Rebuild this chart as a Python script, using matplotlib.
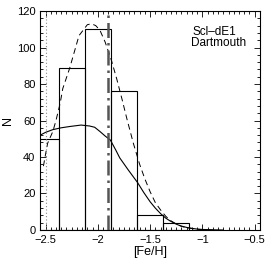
import numpy as np
import matplotlib.pyplot as plt
from matplotlib.ticker import MultipleLocator

plt.rcParams['font.family'] = ['Liberation Sans', 'DejaVu Sans']

# histogram of [Fe/H] (bin centres, counts)
bin_centres = [-2.5, -2.25, -2.0, -1.75, -1.5, -1.25]
counts = [50, 89, 110, 76, 8, 4]
bin_width = 0.25

# dashed model curve
dash_x = [-2.52, -2.495, -2.48, -2.43, -2.40, -2.36, -2.335, -2.27, -2.18, -2.10,
          -2.06, -2.02, -1.98, -1.93, -1.87, -1.82, -1.77, -1.72, -1.66, -1.60,
          -1.55, -1.50, -1.45, -1.40, -1.35, -1.30, -1.25, -1.20, -1.15, -1.10,
          -1.05, -1.00, -0.95, -0.90]
dash_y = [35, 43, 47.5, 54, 60, 69.5, 77.5, 88.5, 106.5, 112.5,
          113, 112, 109.5, 103, 93, 83, 72, 60.5, 47.5, 36,
          28, 21, 15, 11, 7.5, 5, 3.3, 2, 1.2, 0.8,
          0.4, 0.2, 0.1, 0.0]

# solid model curve
solid_x = [-2.55, -2.50, -2.43, -2.35, -2.27, -2.16, -2.08, -2.03, -1.98, -1.93,
           -1.88, -1.865, -1.83, -1.79, -1.71, -1.62, -1.56, -1.50, -1.45, -1.40,
           -1.35, -1.31, -1.25, -1.21, -1.15, -1.10, -1.05, -1.00, -0.90, -0.80]
solid_y = [52, 53.5, 55, 56, 56.7, 57.5, 57, 56.3, 54, 51.5,
           49.3, 47.7, 44, 39.5, 33, 26, 20.5, 15.5, 12, 9,
           6.5, 5, 3.2, 2.3, 1.4, 0.9, 0.5, 0.3, 0.1, 0.0]

mean_feh = -1.90
limit_feh = -2.495

fig = plt.figure(figsize=(2.73, 2.64), dpi=100)
ax = fig.add_axes([0.1476, 0.1288, 0.8044, 0.8295])

ax.bar(bin_centres, counts, width=bin_width, fill=False, edgecolor='black',
       linewidth=0.8)
ax.plot(dash_x, dash_y, color='black', linestyle=(0, (6, 4)), linewidth=0.7)
ax.plot(solid_x, solid_y, color='black', linewidth=0.8)
ax.axvline(mean_feh, color='#555555', linewidth=1.8, linestyle=(0, (6, 2, 1, 2)))
ax.axvline(limit_feh, color='#888888', linewidth=0.8, linestyle=(0, (1, 2)))

ax.text(-1.09, 108.5, 'Scl\u2013dE1', fontsize=8.5, ha='left', va='center')
ax.text(-1.11, 102.5, 'Dartmouth', fontsize=8.5, ha='left', va='center')

ax.set_xlim(-2.55, -0.45)
ax.set_ylim(0, 120)
ax.set_xticks([-2.5, -2, -1.5, -1, -0.5])
ax.set_xticklabels(['\u22122.5', '\u22122', '\u22121.5', '\u22121', '\u22120.5'])
ax.xaxis.set_minor_locator(MultipleLocator(0.05))
ax.yaxis.set_major_locator(MultipleLocator(20))
ax.yaxis.set_minor_locator(MultipleLocator(4))
ax.tick_params(which='both', direction='in', top=True, right=True,
               labelsize=8, width=0.6)
ax.tick_params(which='major', length=4)
ax.tick_params(which='minor', length=2)
for s in ax.spines.values():
    s.set_linewidth(0.8)

ax.set_xlabel('[Fe/H]', fontsize=9, labelpad=1)
ax.set_ylabel('N', fontsize=9, labelpad=2)

fig.savefig('out.png', dpi=100)
